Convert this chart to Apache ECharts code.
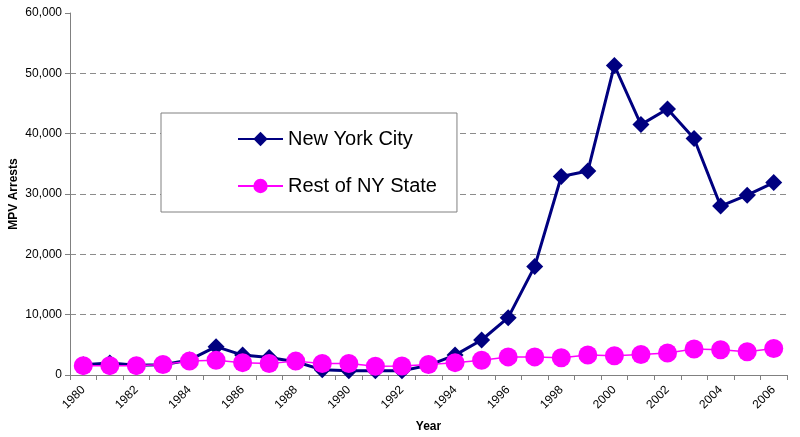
<!DOCTYPE html>
<html>
<head>
<meta charset="utf-8">
<script src="https://cdn.jsdelivr.net/npm/echarts@6/dist/echarts.min.js"></script>
<style>
html,body{margin:0;padding:0;background:#fff;}
#chart{width:800px;height:437px;}
</style>
</head>
<body>
<div id="chart"></div>
<script>
const years = ['1980','1981','1982','1983','1984','1985','1986','1987','1988','1989','1990','1991','1992','1993','1994','1995','1996','1997','1998','1999','2000','2001','2002','2003','2004','2005','2006'];
const nycArrests = [1700,2000,1600,1700,2500,4700,3300,2900,2200,850,700,700,700,1600,3300,5800,9500,18000,32900,33800,51300,41500,44100,39200,28000,29800,31900];
const restOfState = [1550,1550,1550,1750,2300,2450,2050,1900,2300,1900,1900,1450,1500,1750,2050,2450,3000,3000,2850,3300,3200,3400,3650,4300,4200,3850,4400];
const yTicks = {min: 0, max: 60000, interval: 10000};

const chart = echarts.init(document.getElementById('chart'), null, {renderer: 'canvas'});
const font = 'Arial, "Liberation Sans", sans-serif';
chart.setOption({
  animation: false,
  backgroundColor: '#ffffff',
  grid: {left: 70, right: 13, top: 13, bottom: 62, containLabel: false, outerBoundsMode: 'none'},
  legend: {
    left: 161, top: 113,
    orient: 'vertical',
    backgroundColor: '#ffffff',
    borderColor: '#808080',
    borderWidth: 1,
    padding: [16, 20, 16, 76],
    itemGap: 27,
    itemWidth: 45,
    itemHeight: 18,
    textStyle: {fontFamily: font, fontSize: 20, color: '#000'},
    data: ['New York City', 'Rest of NY State']
  },
  xAxis: {
    type: 'category',
    data: years,
    boundaryGap: true,
    name: 'Year',
    nameLocation: 'middle',
    nameGap: 46,
    nameMoveOverlap: false,
    nameTextStyle: {fontFamily: font, fontSize: 12, fontWeight: 'bold', color: '#000'},
    axisLine: {lineStyle: {color: '#808080', width: 1}},
    axisTick: {show: true, alignWithLabel: false, interval: 0, length: 5, lineStyle: {color: '#808080'}},
    axisLabel: {interval: 1, rotate: 45, fontFamily: font, fontSize: 12, color: '#000', margin: 13},
    splitLine: {show: false}
  },
  yAxis: {
    type: 'value',
    min: yTicks.min, max: yTicks.max, interval: yTicks.interval,
    name: 'MPV Arrests',
    nameLocation: 'middle',
    nameGap: 50,
    nameMoveOverlap: false,
    nameRotate: 90,
    nameTextStyle: {fontFamily: font, fontSize: 12, fontWeight: 'bold', color: '#000'},
    axisLine: {show: true, lineStyle: {color: '#808080', width: 1}},
    axisTick: {show: true, length: 5, lineStyle: {color: '#808080'}},
    axisLabel: {fontFamily: font, fontSize: 12, color: '#000', margin: 8,
      formatter: v => v.toLocaleString('en-US')},
    splitLine: {show: true, showMinLine: false, showMaxLine: false,
      lineStyle: {color: '#8c8c8c', type: [6, 4], width: 1}}
  },
  series: [
    {
      name: 'New York City',
      type: 'line',
      data: nycArrests,
      symbol: 'diamond',
      symbolSize: 17,
      showAllSymbol: true,
      itemStyle: {color: '#000080'},
      lineStyle: {color: '#000080', width: 3}
    },
    {
      name: 'Rest of NY State',
      type: 'line',
      data: restOfState,
      symbol: 'circle',
      symbolSize: 19,
      showAllSymbol: true,
      itemStyle: {color: '#ff00ff'},
      lineStyle: {color: '#ff00ff', width: 1.5}
    }
  ]
});
</script>
</body>
</html>
